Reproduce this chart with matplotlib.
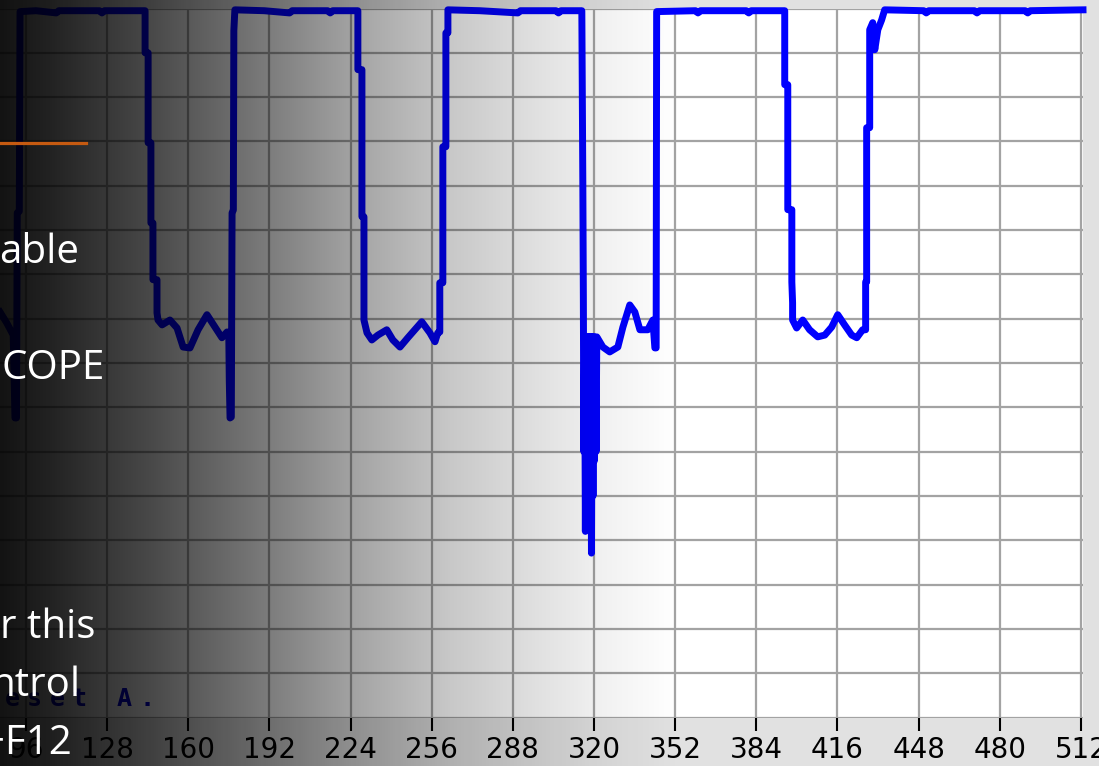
import numpy as np
import matplotlib
matplotlib.use("Agg")
import matplotlib.pyplot as plt
from matplotlib.lines import Line2D

# ---- data (sample index vs. level) ----
sample_x = [85.8, 88.5, 91.0, 91.7, 92.3, 92.6, 93.4, 93.7, 100, 108, 109, 125, 126, 127,
            143.0, 143.0, 144.2, 144.2, 145.3, 145.3, 146.1, 146.1, 147.7, 147.7, 148.1, 149.7,
            152.8, 155.6, 158.0, 160.7, 163.9, 167.4, 170.6, 173.3, 175.3, 176.0, 176.2, 176.5,
            177.0, 177.3, 177.8, 178.0, 178.4, 190, 200, 201, 215, 216, 217,
            226.9, 226.9, 228.5, 228.5, 229.3, 229.3, 230.5, 232.4, 234.8, 238.3, 240.7, 243.5,
            246.6, 252.1, 255.3, 257.3, 258.4, 259.2, 259.2, 260.4, 260.4, 261.6, 261.6, 262.4,
            262.4, 275, 290, 291, 305, 306, 307,
            315.2, 315.6, 315.8, 316.0, 316.3, 316.6, 316.9, 317.2, 317.5, 317.8, 318.1, 318.4,
            318.7, 319.0, 319.3, 319.6, 319.9, 320.2, 320.5, 320.8,
            321.1, 323.5, 326.2, 329.4, 331.4, 334.1, 336.1, 338.1, 341.2, 343.2,
            344.0, 344.5, 344.7, 360, 361, 362, 380, 381, 382,
            395.2, 395.2, 396.4, 396.4, 398.0, 398.0, 398.3, 398.3, 399.9, 402.3, 405.0, 408.2,
            411.0, 413.7, 416.1, 418.8, 421.6, 423.6, 425.9, 427.1, 427.1, 427.5, 427.5, 428.7,
            428.7, 429.9, 430.7, 431.9, 433.4, 434.6, 450, 451, 452, 470, 471, 472, 490, 491,
            492, 512.8]
level_y = [91.5, 89.0, 86.3, 67.6, 67.6, 113.9, 114.2, 159.3, 159.5, 159.0, 159.5, 159.5, 159.0, 159.5,
           159.5, 150.0, 150.0, 129.7, 129.7, 111.6, 111.6, 98.8, 98.8, 91.3, 89.7, 88.6,
           89.7, 87.9, 83.6, 83.4, 87.5, 90.9, 88.1, 85.7, 87.0, 86.5, 76.0, 67.6,
           67.8, 113.9, 114.5, 155.0, 159.7, 159.5, 159.0, 159.5, 159.5, 159.0, 159.5,
           159.5, 146.2, 146.2, 113.0, 113.0, 89.7, 86.8, 85.2, 86.3, 87.5, 85.2, 83.6,
           85.7, 89.3, 86.8, 84.8, 86.8, 87.0, 98.1, 98.1, 128.8, 128.8, 154.5, 154.5,
           159.7, 159.5, 159.0, 159.5, 159.5, 159.0, 159.5,
           159.5, 120.0, 95.0, 60.0, 86.0, 42.0, 85.0, 58.0, 86.0, 45.0, 85.0, 58.0,
           86.0, 37.1, 84.0, 50.0, 86.0, 58.0, 85.0, 60.0,
           85.9, 83.6, 82.5, 83.6, 88.1, 93.1, 91.5, 87.5, 87.5, 89.7,
           83.4, 83.4, 159.3, 159.5, 159.0, 159.5, 159.5, 159.0, 159.5,
           159.5, 142.8, 142.8, 114.6, 114.6, 98.3, 93.6, 89.7, 87.9, 89.7, 87.5, 85.9,
           86.3, 88.1, 90.9, 88.6, 86.3, 85.7, 87.5, 87.5, 98.3, 98.3, 133.1, 133.1,
           155.2, 156.8, 150.7, 155.2, 157.4, 159.7, 159.5, 159.0, 159.5, 159.5, 159.0, 159.5, 159.5, 159.0,
           159.5, 159.7]

tick_values = [96, 128, 160, 192, 224, 256, 288, 320, 352, 384, 416, 448, 480, 512]
tick_labels = [str(v) for v in tick_values]

overlay_text = [("able", -1, 263), ("COPE", 2, 379), ("r this", 0, 638),
                ("ntrol", -10, 696), ("+F12", -18, 754)]
preset_chars = "eset A."

# ---- figure ----
W, H = 1099, 766
fig = plt.figure(figsize=(W / 100, H / 100), dpi=100, facecolor="#e1e1e1")


def fx(px):
    return px / W


def fy(py):
    return 1 - py / H


ax = fig.add_axes([0, fy(717.5), 1083 / W, (717.5 - 8.5) / H])
ax.set_facecolor("white")
ax.plot(sample_x, level_y, color="#0000ff", lw=5, solid_joinstyle="round",
        clip_on=False, zorder=3)
ax.set_xlim(85.8, 512.8)
ax.set_ylim(0, 160)
ax.set_xticks(tick_values)
ax.set_xticklabels(tick_labels, family="DejaVu Sans")
ax.set_yticks(np.arange(0, 161, 10))
ax.grid(True, color="#a3a3a3", lw=1.6, zorder=1)
ax.set_axisbelow(True)
ax.tick_params(axis="x", direction="out", length=9, width=1.5, colors="black",
               pad=4, labelsize=20)
ax.tick_params(axis="y", length=0, labelleft=False)
for s in ax.spines.values():
    s.set_visible(False)

# application label under the gradient
for i, ch in enumerate(preset_chars):
    fig.text(fx(12 + 22.5 * i), fy(699), ch, ha="center", va="center",
             family="DejaVu Sans Mono", fontweight="bold", fontsize=18,
             color="#0000d0", zorder=1)

# dark gradient overlay
ov = fig.add_axes([0, 0, 1, 1], zorder=5)
ov.set_xlim(0, W)
ov.set_ylim(H, 0)
ov.axis("off")
ov.patch.set_visible(False)
cols = np.arange(W) + 0.5
ctrl_px = [0, 50, 150, 250, 350, 450, 540, 600, 680, W]
ctrl_a = [0.93, 0.87, 0.72, 0.55, 0.37, 0.22, 0.12, 0.06, 0.0, 0.0]
alpha = np.interp(cols, ctrl_px, ctrl_a)
img = np.zeros((1, W, 4))
img[..., 3] = alpha
ov.imshow(img, extent=[0, W, H, 0], aspect="auto", interpolation="bilinear")

# slide text on top
for txt, px, py in overlay_text:
    fig.text(fx(px), fy(py), txt, ha="left", va="baseline", family="Open Sans",
             fontsize=29, color="white", zorder=10)
fig.add_artist(Line2D([0, fx(86)], [fy(143), fy(143)], transform=fig.transFigure,
                      color="#c55a11", lw=2.3, zorder=10))

fig.savefig("out.png", dpi=100, facecolor=fig.get_facecolor())
